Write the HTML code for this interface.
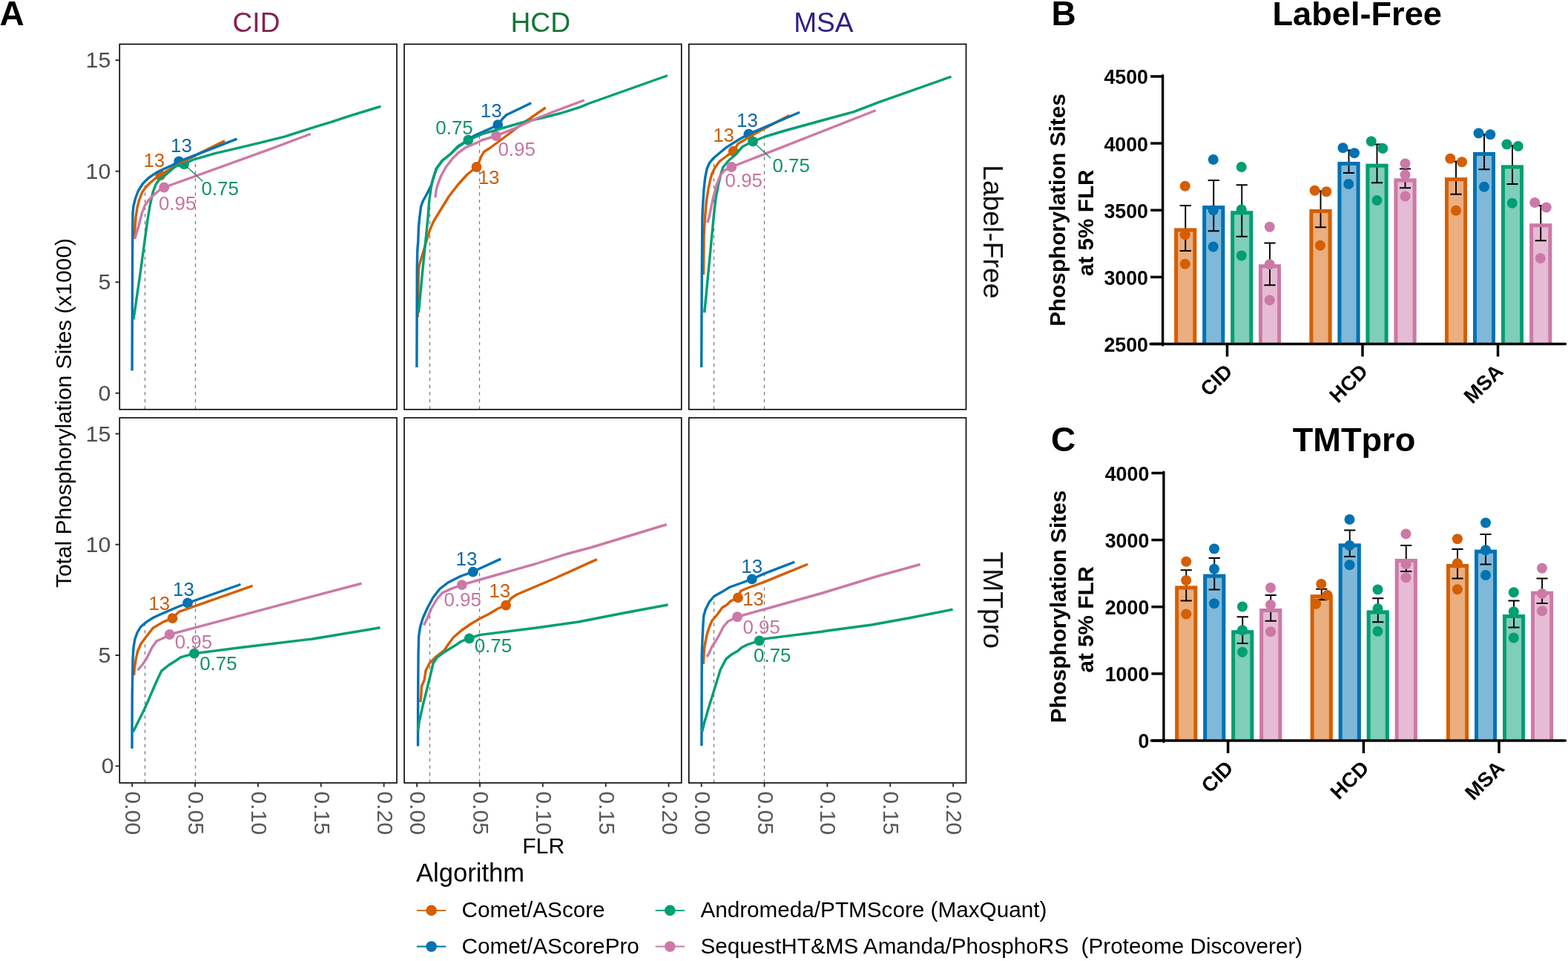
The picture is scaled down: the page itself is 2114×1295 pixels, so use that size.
<!DOCTYPE html>
<html lang="en">
<head>
<meta charset="utf-8">
<title>Phosphorylation site localization benchmark</title>
<style>
html,body{margin:0;padding:0;background:#fff;}
body{width:2114px;height:1295px;overflow:hidden;}
svg{display:block;font-family:"Liberation Sans", Arial, Helvetica, sans-serif;}
</style>
</head>
<body>
<svg width="2114" height="1295" viewBox="0 0 2114 1295">
<rect x="0" y="0" width="2114" height="1295" fill="#ffffff"/>
<g id="panelA">
<g>
<line x1="195.50" y1="551.75" x2="195.50" y2="246.00" stroke="#777777" stroke-width="1.25" stroke-dasharray="4.4 5.2"/>
<line x1="263.50" y1="551.75" x2="263.50" y2="211.00" stroke="#777777" stroke-width="1.25" stroke-dasharray="4.4 5.2"/>
<circle cx="216.25" cy="236.25" r="6.9" fill="#D55E00"/>
<circle cx="241.25" cy="217.50" r="6.9" fill="#0072B2"/>
<circle cx="248.10" cy="221.25" r="6.9" fill="#009E73"/>
<circle cx="221.25" cy="252.50" r="6.9" fill="#CC79A7"/>
<path d="M181.40,322.00 L181.90,307.50 L183.10,292.50 L185.00,280.00 L187.50,270.00 L191.25,260.00 L196.25,252.50 L202.50,246.25 L210.00,240.00 L216.25,236.25 L225.00,230.50 L241.00,221.00 L270.00,206.00 L303.00,189.70" fill="none" stroke="#D55E00" stroke-width="3.4" stroke-linejoin="round" stroke-linecap="butt"/>
<path d="M178.10,499.40 L178.30,430.00 L178.50,362.00 L178.75,312.50 L179.00,287.50 L180.00,277.50 L182.50,267.50 L186.25,257.50 L192.50,247.50 L200.00,240.00 L210.00,233.10 L220.00,228.10 L232.50,222.50 L241.25,217.50 L319.50,187.20" fill="none" stroke="#0072B2" stroke-width="3.4" stroke-linejoin="round" stroke-linecap="butt"/>
<path d="M180.00,430.60 L190.00,362.00 L195.00,325.00 L198.75,297.50 L202.50,275.00 L206.25,258.75 L210.00,248.75 L215.00,241.25 L222.50,236.25 L231.25,228.75 L237.50,223.75 L248.10,221.25 L260.00,215.30 L290.00,206.60 L321.25,199.40 L352.50,191.90 L383.75,184.10 L421.90,171.90 L447.50,164.20 L470.00,156.70 L513.40,143.30" fill="none" stroke="#009E73" stroke-width="3.4" stroke-linejoin="round" stroke-linecap="butt"/>
<path d="M181.90,321.25 L187.50,302.50 L191.25,287.50 L195.00,277.50 L200.00,270.00 L207.50,262.50 L215.00,256.25 L221.25,252.50 L363.75,201.20 L418.75,180.50" fill="none" stroke="#CC79A7" stroke-width="3.4" stroke-linejoin="round" stroke-linecap="butt"/>
<line x1="248.10" y1="221.25" x2="273.50" y2="244.60" stroke="#1c8466" stroke-width="1.3"/>
<text x="207.80" y="224.70" font-size="25.9" fill="#cb5f0c" text-anchor="middle">13</text>
<text x="244.40" y="205.30" font-size="25.9" fill="#0d6aa6" text-anchor="middle">13</text>
<text x="296.60" y="263.40" font-size="25.9" fill="#0f9169" text-anchor="middle">0.75</text>
<text x="239.10" y="283.40" font-size="25.9" fill="#c475a1" text-anchor="middle">0.95</text>
<rect x="161.25" y="59.50" width="373.75" height="492.25" fill="none" stroke="#000" stroke-width="1.6"/>
</g>
<g>
<line x1="579.50" y1="551.75" x2="579.50" y2="256.00" stroke="#777777" stroke-width="1.25" stroke-dasharray="4.4 5.2"/>
<line x1="646.50" y1="551.75" x2="646.50" y2="183.00" stroke="#777777" stroke-width="1.25" stroke-dasharray="4.4 5.2"/>
<circle cx="642.50" cy="225.00" r="6.9" fill="#D55E00"/>
<circle cx="671.25" cy="168.10" r="6.9" fill="#0072B2"/>
<circle cx="631.25" cy="188.75" r="6.9" fill="#009E73"/>
<circle cx="668.75" cy="183.10" r="6.9" fill="#CC79A7"/>
<path d="M563.10,427.50 L564.40,362.00 L566.25,353.75 L571.25,337.50 L576.25,320.00 L580.00,308.75 L585.00,297.50 L595.00,281.25 L605.00,265.00 L617.50,248.75 L630.00,235.00 L642.50,225.00 L646.25,217.50 L648.75,211.00 L652.50,204.50 L661.25,199.00 L680.00,185.00 L705.00,166.25 L735.60,145.00" fill="none" stroke="#D55E00" stroke-width="3.4" stroke-linejoin="round" stroke-linecap="butt"/>
<path d="M561.90,495.00 L562.25,362.00 L562.75,337.50 L563.75,325.00 L564.40,306.25 L565.60,293.75 L567.50,278.75 L570.00,271.25 L576.25,260.00 L581.25,250.00 L584.00,241.00 L588.30,227.50 L596.25,216.50 L607.50,207.50 L617.50,198.00 L631.25,188.50 L640.00,182.50 L662.50,172.50 L671.25,168.10 L675.00,163.50 L677.50,160.00 L682.50,155.00 L716.25,138.75" fill="none" stroke="#0072B2" stroke-width="3.4" stroke-linejoin="round" stroke-linecap="butt"/>
<path d="M564.40,421.25 L570.00,362.00 L572.50,337.50 L574.40,318.75 L576.90,293.75 L578.75,270.00 L581.25,252.50 L583.75,241.25 L588.10,227.50 L596.25,216.25 L607.50,207.50 L617.50,197.00 L631.25,188.75 L650.00,180.60 L678.10,172.50 L706.25,164.40 L731.25,158.75 L756.25,152.50 L781.90,144.40 L793.75,139.50 L900.00,101.75" fill="none" stroke="#009E73" stroke-width="3.4" stroke-linejoin="round" stroke-linecap="butt"/>
<path d="M586.90,266.25 L588.10,256.25 L590.00,248.75 L595.00,236.25 L601.25,225.00 L610.00,213.75 L617.50,206.25 L627.50,199.00 L642.50,192.50 L650.00,188.75 L668.75,183.10 L693.75,173.10 L718.75,161.50 L743.75,151.50 L787.80,135.00" fill="none" stroke="#CC79A7" stroke-width="3.4" stroke-linejoin="round" stroke-linecap="butt"/>
<text x="612.50" y="180.90" font-size="25.9" fill="#0f9169" text-anchor="middle">0.75</text>
<text x="662.20" y="158.40" font-size="25.9" fill="#0d6aa6" text-anchor="middle">13</text>
<text x="696.60" y="210.30" font-size="25.9" fill="#c475a1" text-anchor="middle">0.95</text>
<text x="659.10" y="247.80" font-size="25.9" fill="#cb5f0c" text-anchor="middle">13</text>
<rect x="545.00" y="59.50" width="373.75" height="492.25" fill="none" stroke="#000" stroke-width="1.6"/>
</g>
<g>
<line x1="962.50" y1="551.75" x2="962.50" y2="214.00" stroke="#777777" stroke-width="1.25" stroke-dasharray="4.4 5.2"/>
<line x1="1030.50" y1="551.75" x2="1030.50" y2="173.00" stroke="#777777" stroke-width="1.25" stroke-dasharray="4.4 5.2"/>
<circle cx="988.75" cy="203.75" r="6.9" fill="#D55E00"/>
<circle cx="1009.40" cy="180.60" r="6.9" fill="#0072B2"/>
<circle cx="1015.00" cy="190.60" r="6.9" fill="#009E73"/>
<circle cx="986.25" cy="225.00" r="6.9" fill="#CC79A7"/>
<path d="M948.50,370.00 L949.00,317.50 L950.60,292.00 L952.50,270.00 L955.00,255.00 L957.50,242.50 L960.00,233.75 L963.75,226.25 L970.00,217.50 L980.00,210.00 L988.75,203.75 L995.00,193.75 L1015.00,181.90 L1030.00,173.60 L1047.00,164.60 L1064.40,155.60" fill="none" stroke="#D55E00" stroke-width="3.4" stroke-linejoin="round" stroke-linecap="butt"/>
<path d="M945.70,495.00 L945.90,442.00 L946.40,350.00 L946.90,292.00 L947.75,273.75 L949.00,255.00 L950.60,240.00 L953.10,227.50 L956.25,220.00 L961.25,213.75 L970.00,206.25 L980.00,198.10 L995.00,188.75 L1009.40,180.60 L1078.10,151.25" fill="none" stroke="#0072B2" stroke-width="3.4" stroke-linejoin="round" stroke-linecap="butt"/>
<path d="M949.75,421.25 L962.80,286.00 L965.00,267.50 L968.75,247.50 L972.50,232.50 L975.00,225.00 L982.50,216.25 L991.25,208.75 L1001.25,197.50 L1015.00,190.60 L1032.50,183.75 L1057.50,176.25 L1107.50,162.50 L1151.25,150.60 L1183.75,138.10 L1282.50,103.25" fill="none" stroke="#009E73" stroke-width="3.4" stroke-linejoin="round" stroke-linecap="butt"/>
<path d="M953.75,300.00 L956.25,292.00 L961.25,267.50 L966.25,248.75 L971.25,236.25 L976.25,230.00 L986.25,225.00 L1180.60,148.75" fill="none" stroke="#CC79A7" stroke-width="3.4" stroke-linejoin="round" stroke-linecap="butt"/>
<line x1="1015.00" y1="190.60" x2="1039.00" y2="213.30" stroke="#1c8466" stroke-width="1.3"/>
<text x="1007.50" y="170.90" font-size="25.9" fill="#0d6aa6" text-anchor="middle">13</text>
<text x="975.60" y="190.90" font-size="25.9" fill="#cb5f0c" text-anchor="middle">13</text>
<text x="1066.60" y="231.55" font-size="25.9" fill="#0f9169" text-anchor="middle">0.75</text>
<text x="1002.80" y="251.55" font-size="25.9" fill="#c475a1" text-anchor="middle">0.95</text>
<rect x="928.75" y="59.50" width="373.75" height="492.25" fill="none" stroke="#000" stroke-width="1.6"/>
</g>
<line x1="155.6" y1="81.20" x2="161.2" y2="81.20" stroke="#2b2b2b" stroke-width="1.9"/>
<text x="149.3" y="91.20" font-size="30.3" fill="#4d4d4d" text-anchor="end">15</text>
<line x1="155.6" y1="230.73" x2="161.2" y2="230.73" stroke="#2b2b2b" stroke-width="1.9"/>
<text x="149.3" y="240.73" font-size="30.3" fill="#4d4d4d" text-anchor="end">10</text>
<line x1="155.6" y1="380.27" x2="161.2" y2="380.27" stroke="#2b2b2b" stroke-width="1.9"/>
<text x="149.3" y="390.27" font-size="30.3" fill="#4d4d4d" text-anchor="end">5</text>
<line x1="155.6" y1="529.80" x2="161.2" y2="529.80" stroke="#2b2b2b" stroke-width="1.9"/>
<text x="149.3" y="539.80" font-size="30.3" fill="#4d4d4d" text-anchor="end">0</text>
<g>
<line x1="195.50" y1="1055.00" x2="195.50" y2="842.00" stroke="#777777" stroke-width="1.25" stroke-dasharray="4.4 5.2"/>
<line x1="263.50" y1="1055.00" x2="263.50" y2="811.00" stroke="#777777" stroke-width="1.25" stroke-dasharray="4.4 5.2"/>
<circle cx="232.50" cy="833.10" r="6.9" fill="#D55E00"/>
<circle cx="253.10" cy="812.50" r="6.9" fill="#0072B2"/>
<circle cx="261.90" cy="880.60" r="6.9" fill="#009E73"/>
<circle cx="228.75" cy="855.00" r="6.9" fill="#CC79A7"/>
<path d="M180.70,910.00 L181.25,901.25 L183.10,888.75 L185.60,877.50 L190.00,867.50 L197.50,857.50 L206.25,846.25 L220.00,838.10 L232.50,833.10 L237.50,828.10 L241.25,824.40 L262.50,816.90 L340.60,789.40" fill="none" stroke="#D55E00" stroke-width="3.4" stroke-linejoin="round" stroke-linecap="butt"/>
<path d="M178.00,1008.75 L178.25,935.00 L178.75,907.50 L179.00,888.75 L180.00,872.50 L181.90,861.25 L185.00,852.50 L189.40,845.00 L197.50,838.10 L206.25,832.50 L220.00,826.25 L237.50,818.75 L253.10,812.50 L324.40,787.50" fill="none" stroke="#0072B2" stroke-width="3.4" stroke-linejoin="round" stroke-linecap="butt"/>
<path d="M179.50,986.25 L195.00,955.00 L205.00,932.00 L212.50,915.00 L217.50,904.40 L227.50,896.25 L237.50,890.00 L243.75,885.60 L261.90,880.60 L325.00,872.50 L413.75,861.90 L420.00,861.25 L512.50,845.75" fill="none" stroke="#009E73" stroke-width="3.4" stroke-linejoin="round" stroke-linecap="butt"/>
<path d="M185.60,903.10 L192.50,895.00 L197.50,887.50 L205.00,872.50 L211.25,863.75 L220.00,860.00 L228.75,855.00 L413.75,805.60 L487.50,786.25" fill="none" stroke="#CC79A7" stroke-width="3.4" stroke-linejoin="round" stroke-linecap="butt"/>
<text x="247.50" y="803.40" font-size="25.9" fill="#0d6aa6" text-anchor="middle">13</text>
<text x="214.70" y="821.55" font-size="25.9" fill="#cb5f0c" text-anchor="middle">13</text>
<text x="260.90" y="874.05" font-size="25.9" fill="#c475a1" text-anchor="middle">0.95</text>
<text x="294.40" y="903.05" font-size="25.9" fill="#0f9169" text-anchor="middle">0.75</text>
<rect x="161.25" y="563.00" width="373.75" height="492.00" fill="none" stroke="#000" stroke-width="1.6"/>
</g>
<g>
<line x1="579.50" y1="1055.00" x2="579.50" y2="813.00" stroke="#777777" stroke-width="1.25" stroke-dasharray="4.4 5.2"/>
<line x1="646.50" y1="1055.00" x2="646.50" y2="767.00" stroke="#777777" stroke-width="1.25" stroke-dasharray="4.4 5.2"/>
<circle cx="682.10" cy="815.60" r="6.9" fill="#D55E00"/>
<circle cx="637.75" cy="770.60" r="6.9" fill="#0072B2"/>
<circle cx="632.75" cy="860.30" r="6.9" fill="#009E73"/>
<circle cx="622.75" cy="788.10" r="6.9" fill="#CC79A7"/>
<path d="M566.75,946.25 L567.75,937.50 L568.40,925.00 L572.10,916.25 L574.00,903.75 L579.00,893.75 L587.75,885.00 L599.00,876.25 L604.00,868.75 L611.50,858.75 L621.50,850.00 L634.00,841.25 L646.50,833.75 L659.00,827.50 L671.50,820.00 L682.10,815.60 L689.00,806.25 L696.50,801.25 L746.50,780.00 L797.75,756.90 L805.00,753.75" fill="none" stroke="#D55E00" stroke-width="3.4" stroke-linejoin="round" stroke-linecap="butt"/>
<path d="M563.50,1005.60 L563.60,947.50 L564.00,882.00 L564.60,857.50 L566.50,845.00 L570.25,832.50 L576.50,818.75 L584.00,805.00 L592.75,793.75 L604.00,785.00 L621.50,776.25 L637.75,770.60 L646.50,766.25 L675.25,753.10" fill="none" stroke="#0072B2" stroke-width="3.4" stroke-linejoin="round" stroke-linecap="butt"/>
<path d="M563.40,985.00 L565.25,972.50 L570.25,950.00 L575.25,930.00 L580.25,910.00 L584.00,893.75 L589.00,886.25 L599.00,878.75 L615.25,868.75 L621.50,864.40 L632.75,860.30 L646.50,855.60 L721.50,846.25 L780.00,838.00 L840.00,826.25 L900.50,815.00" fill="none" stroke="#009E73" stroke-width="3.4" stroke-linejoin="round" stroke-linecap="butt"/>
<path d="M571.50,842.50 L576.50,832.50 L581.50,820.00 L589.00,807.50 L596.50,798.75 L609.00,793.10 L622.75,788.10 L646.50,781.25 L721.50,760.00 L765.00,746.25 L797.75,737.50 L898.75,706.75" fill="none" stroke="#CC79A7" stroke-width="3.4" stroke-linejoin="round" stroke-linecap="butt"/>
<text x="629.00" y="761.55" font-size="25.9" fill="#0d6aa6" text-anchor="middle">13</text>
<text x="623.70" y="817.20" font-size="25.9" fill="#c475a1" text-anchor="middle">0.95</text>
<text x="673.70" y="804.70" font-size="25.9" fill="#cb5f0c" text-anchor="middle">13</text>
<text x="664.90" y="878.70" font-size="25.9" fill="#0f9169" text-anchor="middle">0.75</text>
<rect x="545.00" y="563.00" width="373.75" height="492.00" fill="none" stroke="#000" stroke-width="1.6"/>
</g>
<g>
<line x1="962.50" y1="1055.00" x2="962.50" y2="805.00" stroke="#777777" stroke-width="1.25" stroke-dasharray="4.4 5.2"/>
<line x1="1030.50" y1="1055.00" x2="1030.50" y2="774.00" stroke="#777777" stroke-width="1.25" stroke-dasharray="4.4 5.2"/>
<circle cx="995.00" cy="805.40" r="6.9" fill="#D55E00"/>
<circle cx="1013.75" cy="780.40" r="6.9" fill="#0072B2"/>
<circle cx="1023.75" cy="863.40" r="6.9" fill="#009E73"/>
<circle cx="994.00" cy="831.25" r="6.9" fill="#CC79A7"/>
<path d="M948.30,895.00 L949.40,875.00 L950.60,867.50 L953.10,855.00 L956.25,845.00 L960.00,836.25 L967.50,827.50 L973.75,818.75 L980.00,815.00 L985.00,810.00 L995.00,805.40 L998.75,796.25 L1007.50,792.50 L1030.00,784.40 L1089.00,760.25" fill="none" stroke="#D55E00" stroke-width="3.4" stroke-linejoin="round" stroke-linecap="butt"/>
<path d="M945.90,1005.00 L946.25,882.00 L946.90,863.75 L947.75,845.00 L948.75,830.00 L951.25,821.25 L956.25,811.25 L962.50,803.75 L972.50,798.10 L983.75,791.25 L1001.25,785.00 L1013.75,780.40 L1030.00,773.10 L1071.25,757.25" fill="none" stroke="#0072B2" stroke-width="3.4" stroke-linejoin="round" stroke-linecap="butt"/>
<path d="M946.50,986.25 L950.00,972.50 L955.00,955.00 L961.25,935.00 L966.25,918.75 L971.25,902.50 L978.75,888.10 L986.25,881.90 L995.00,876.90 L1000.00,872.50 L1007.50,868.75 L1023.75,863.40 L1032.50,860.60 L1107.50,851.25 L1115.00,850.00 L1175.00,842.00 L1227.50,832.50 L1284.50,821.25" fill="none" stroke="#009E73" stroke-width="3.4" stroke-linejoin="round" stroke-linecap="butt"/>
<path d="M953.10,885.00 L955.00,882.00 L960.00,871.25 L965.00,863.75 L970.00,855.00 L975.00,845.00 L981.25,837.50 L987.50,834.40 L994.00,831.25 L1032.50,820.50 L1107.50,799.50 L1183.75,776.25 L1240.75,760.50" fill="none" stroke="#CC79A7" stroke-width="3.4" stroke-linejoin="round" stroke-linecap="butt"/>
<text x="1013.75" y="771.55" font-size="25.9" fill="#0d6aa6" text-anchor="middle">13</text>
<text x="1015.60" y="815.90" font-size="25.9" fill="#cb5f0c" text-anchor="middle">13</text>
<text x="1026.60" y="854.05" font-size="25.9" fill="#c475a1" text-anchor="middle">0.95</text>
<text x="1041.25" y="892.20" font-size="25.9" fill="#0f9169" text-anchor="middle">0.75</text>
<rect x="928.75" y="563.00" width="373.75" height="492.00" fill="none" stroke="#000" stroke-width="1.6"/>
</g>
<line x1="155.6" y1="584.50" x2="161.2" y2="584.50" stroke="#2b2b2b" stroke-width="1.9"/>
<text x="149.3" y="594.50" font-size="30.3" fill="#4d4d4d" text-anchor="end">15</text>
<line x1="155.6" y1="733.77" x2="161.2" y2="733.77" stroke="#2b2b2b" stroke-width="1.9"/>
<text x="149.3" y="743.77" font-size="30.3" fill="#4d4d4d" text-anchor="end">10</text>
<line x1="155.6" y1="883.03" x2="161.2" y2="883.03" stroke="#2b2b2b" stroke-width="1.9"/>
<text x="149.3" y="893.03" font-size="30.3" fill="#4d4d4d" text-anchor="end">5</text>
<line x1="155.6" y1="1032.30" x2="161.2" y2="1032.30" stroke="#2b2b2b" stroke-width="1.9"/>
<text x="153.7" y="1042.30" font-size="30.3" fill="#4d4d4d" text-anchor="end">0</text>
<line x1="178.20" y1="1055.00" x2="178.20" y2="1060.40" stroke="#2b2b2b" stroke-width="1.9"/>
<text transform="translate(169.20,1066.20) rotate(90)" font-size="30.3" fill="#585858">0.00</text>
<line x1="263.05" y1="1055.00" x2="263.05" y2="1060.40" stroke="#2b2b2b" stroke-width="1.9"/>
<text transform="translate(254.05,1066.20) rotate(90)" font-size="30.3" fill="#585858">0.05</text>
<line x1="347.90" y1="1055.00" x2="347.90" y2="1060.40" stroke="#2b2b2b" stroke-width="1.9"/>
<text transform="translate(338.90,1066.20) rotate(90)" font-size="30.3" fill="#585858">0.10</text>
<line x1="432.75" y1="1055.00" x2="432.75" y2="1060.40" stroke="#2b2b2b" stroke-width="1.9"/>
<text transform="translate(423.75,1066.20) rotate(90)" font-size="30.3" fill="#585858">0.15</text>
<line x1="517.60" y1="1055.00" x2="517.60" y2="1060.40" stroke="#2b2b2b" stroke-width="1.9"/>
<text transform="translate(508.60,1066.20) rotate(90)" font-size="30.3" fill="#585858">0.20</text>
<line x1="562.10" y1="1055.00" x2="562.10" y2="1060.40" stroke="#2b2b2b" stroke-width="1.9"/>
<text transform="translate(553.10,1066.20) rotate(90)" font-size="30.3" fill="#585858">0.00</text>
<line x1="646.95" y1="1055.00" x2="646.95" y2="1060.40" stroke="#2b2b2b" stroke-width="1.9"/>
<text transform="translate(637.95,1066.20) rotate(90)" font-size="30.3" fill="#585858">0.05</text>
<line x1="731.80" y1="1055.00" x2="731.80" y2="1060.40" stroke="#2b2b2b" stroke-width="1.9"/>
<text transform="translate(722.80,1066.20) rotate(90)" font-size="30.3" fill="#585858">0.10</text>
<line x1="816.65" y1="1055.00" x2="816.65" y2="1060.40" stroke="#2b2b2b" stroke-width="1.9"/>
<text transform="translate(807.65,1066.20) rotate(90)" font-size="30.3" fill="#585858">0.15</text>
<line x1="901.50" y1="1055.00" x2="901.50" y2="1060.40" stroke="#2b2b2b" stroke-width="1.9"/>
<text transform="translate(892.50,1066.20) rotate(90)" font-size="30.3" fill="#585858">0.20</text>
<line x1="945.70" y1="1055.00" x2="945.70" y2="1060.40" stroke="#2b2b2b" stroke-width="1.9"/>
<text transform="translate(936.70,1066.20) rotate(90)" font-size="30.3" fill="#585858">0.00</text>
<line x1="1030.55" y1="1055.00" x2="1030.55" y2="1060.40" stroke="#2b2b2b" stroke-width="1.9"/>
<text transform="translate(1021.55,1066.20) rotate(90)" font-size="30.3" fill="#585858">0.05</text>
<line x1="1115.40" y1="1055.00" x2="1115.40" y2="1060.40" stroke="#2b2b2b" stroke-width="1.9"/>
<text transform="translate(1106.40,1066.20) rotate(90)" font-size="30.3" fill="#585858">0.10</text>
<line x1="1200.25" y1="1055.00" x2="1200.25" y2="1060.40" stroke="#2b2b2b" stroke-width="1.9"/>
<text transform="translate(1191.25,1066.20) rotate(90)" font-size="30.3" fill="#585858">0.15</text>
<line x1="1285.10" y1="1055.00" x2="1285.10" y2="1060.40" stroke="#2b2b2b" stroke-width="1.9"/>
<text transform="translate(1276.10,1066.20) rotate(90)" font-size="30.3" fill="#585858">0.20</text>
<text x="345.52" y="42.6" font-size="37.1" fill="#842254" text-anchor="middle">CID</text>
<text x="728.77" y="42.6" font-size="37.1" fill="#137636" text-anchor="middle">HCD</text>
<text x="1110.42" y="42.6" font-size="37.1" fill="#2f2083" text-anchor="middle">MSA</text>
<text transform="translate(1326.2,312.32) rotate(90)" font-size="37.3" fill="#111" text-anchor="middle">Label-Free</text>
<text transform="translate(1326.2,808.70) rotate(90)" font-size="37.3" fill="#111" text-anchor="middle">TMTpro</text>
<text transform="translate(96.1,556.6) rotate(-90)" font-size="29.95" fill="#000" text-anchor="middle">Total Phosphorylation Sites (x1000)</text>
<text x="732.7" y="1150.4" font-size="30.2" fill="#000" text-anchor="middle">FLR</text>
<text x="561.0" y="1187.6" font-size="34.6" fill="#000">Algorithm</text>
<line x1="561.90" y1="1226.90" x2="601.30" y2="1226.90" stroke="#D55E00" stroke-width="1.9"/>
<circle cx="581.60" cy="1226.90" r="7.3" fill="#D55E00"/>
<text x="622.60" y="1236.10" font-size="29.7" fill="#000" style="white-space:pre">Comet/AScore</text>
<line x1="561.90" y1="1275.50" x2="601.30" y2="1275.50" stroke="#0072B2" stroke-width="1.9"/>
<circle cx="581.60" cy="1275.50" r="7.3" fill="#0072B2"/>
<text x="622.60" y="1284.70" font-size="29.7" fill="#000" style="white-space:pre">Comet/AScorePro</text>
<line x1="883.60" y1="1226.90" x2="923.00" y2="1226.90" stroke="#009E73" stroke-width="1.9"/>
<circle cx="903.30" cy="1226.90" r="7.3" fill="#009E73"/>
<text x="944.40" y="1236.10" font-size="29.7" fill="#000" style="white-space:pre">Andromeda/PTMScore (MaxQuant)</text>
<line x1="883.60" y1="1275.50" x2="923.00" y2="1275.50" stroke="#CC79A7" stroke-width="1.9"/>
<circle cx="903.30" cy="1275.50" r="7.3" fill="#CC79A7"/>
<text x="944.40" y="1284.70" font-size="29.7" fill="#000" style="white-space:pre">SequestHT&amp;MS Amanda/PhosphoRS  (Proteome Discoverer)</text>
<text x="-0.6" y="34.2" font-size="46" font-weight="bold" fill="#000">A</text>
</g>
<g id="chartB">
<rect x="1583.25" y="307.50" width="30" height="156.00" fill="#D55E00" fill-opacity="0.5"/>
<rect x="1621.25" y="277.00" width="30" height="186.50" fill="#0072B2" fill-opacity="0.5"/>
<rect x="1659.25" y="284.25" width="30" height="179.25" fill="#009E73" fill-opacity="0.5"/>
<rect x="1697.00" y="356.25" width="30" height="107.25" fill="#CC79A7" fill-opacity="0.5"/>
<rect x="1765.50" y="282.00" width="30" height="181.50" fill="#D55E00" fill-opacity="0.5"/>
<rect x="1803.50" y="218.00" width="30" height="245.50" fill="#0072B2" fill-opacity="0.5"/>
<rect x="1841.50" y="220.75" width="30" height="242.75" fill="#009E73" fill-opacity="0.5"/>
<rect x="1879.50" y="240.50" width="30" height="223.00" fill="#CC79A7" fill-opacity="0.5"/>
<rect x="1948.00" y="239.25" width="30" height="224.25" fill="#D55E00" fill-opacity="0.5"/>
<rect x="1986.00" y="205.00" width="30" height="258.50" fill="#0072B2" fill-opacity="0.5"/>
<rect x="2024.00" y="222.50" width="30" height="241.00" fill="#009E73" fill-opacity="0.5"/>
<rect x="2062.25" y="301.25" width="30" height="162.25" fill="#CC79A7" fill-opacity="0.5"/>
<path d="M1598.25,277.00 V338.00 M1590.65,277.00 H1605.85 M1590.65,338.00 H1605.85" fill="none" stroke="#000" stroke-width="1.9"/>
<path d="M1636.25,243.00 V311.25 M1628.65,243.00 H1643.85 M1628.65,311.25 H1643.85" fill="none" stroke="#000" stroke-width="1.9"/>
<path d="M1674.25,249.25 V318.75 M1666.65,249.25 H1681.85 M1666.65,318.75 H1681.85" fill="none" stroke="#000" stroke-width="1.9"/>
<path d="M1712.00,327.50 V384.30 M1704.40,327.50 H1719.60 M1704.40,384.30 H1719.60" fill="none" stroke="#000" stroke-width="1.9"/>
<path d="M1780.50,257.50 V306.25 M1772.90,257.50 H1788.10 M1772.90,306.25 H1788.10" fill="none" stroke="#000" stroke-width="1.9"/>
<path d="M1818.50,202.50 V233.00 M1810.90,202.50 H1826.10 M1810.90,233.00 H1826.10" fill="none" stroke="#000" stroke-width="1.9"/>
<path d="M1856.50,194.50 V246.25 M1848.90,194.50 H1864.10 M1848.90,246.25 H1864.10" fill="none" stroke="#000" stroke-width="1.9"/>
<path d="M1894.50,227.50 V253.25 M1886.90,227.50 H1902.10 M1886.90,253.25 H1902.10" fill="none" stroke="#000" stroke-width="1.9"/>
<path d="M1963.00,217.50 V261.75 M1955.40,217.50 H1970.60 M1955.40,261.75 H1970.60" fill="none" stroke="#000" stroke-width="1.9"/>
<path d="M2001.00,181.25 V228.25 M1993.40,181.25 H2008.60 M1993.40,228.25 H2008.60" fill="none" stroke="#000" stroke-width="1.9"/>
<path d="M2039.00,196.25 V248.00 M2031.40,196.25 H2046.60 M2031.40,248.00 H2046.60" fill="none" stroke="#000" stroke-width="1.9"/>
<path d="M2077.25,277.00 V324.25 M2069.65,277.00 H2084.85 M2069.65,324.25 H2084.85" fill="none" stroke="#000" stroke-width="1.9"/>
<circle cx="1597.75" cy="250.75" r="7.0" fill="#D55E00"/>
<circle cx="1597.75" cy="316.25" r="7.0" fill="#D55E00"/>
<circle cx="1597.75" cy="355.75" r="7.0" fill="#D55E00"/>
<circle cx="1635.75" cy="215.00" r="7.0" fill="#0072B2"/>
<circle cx="1635.75" cy="283.25" r="7.0" fill="#0072B2"/>
<circle cx="1635.75" cy="332.50" r="7.0" fill="#0072B2"/>
<circle cx="1673.75" cy="225.00" r="7.0" fill="#009E73"/>
<circle cx="1673.75" cy="282.50" r="7.0" fill="#009E73"/>
<circle cx="1673.75" cy="344.50" r="7.0" fill="#009E73"/>
<circle cx="1711.75" cy="305.75" r="7.0" fill="#CC79A7"/>
<circle cx="1711.75" cy="356.25" r="7.0" fill="#CC79A7"/>
<circle cx="1711.75" cy="404.50" r="7.0" fill="#CC79A7"/>
<circle cx="1772.50" cy="256.75" r="7.0" fill="#D55E00"/>
<circle cx="1788.25" cy="258.25" r="7.0" fill="#D55E00"/>
<circle cx="1780.00" cy="330.75" r="7.0" fill="#D55E00"/>
<circle cx="1810.50" cy="199.25" r="7.0" fill="#0072B2"/>
<circle cx="1826.00" cy="206.25" r="7.0" fill="#0072B2"/>
<circle cx="1818.25" cy="248.00" r="7.0" fill="#0072B2"/>
<circle cx="1848.75" cy="190.50" r="7.0" fill="#009E73"/>
<circle cx="1864.25" cy="200.00" r="7.0" fill="#009E73"/>
<circle cx="1856.50" cy="270.00" r="7.0" fill="#009E73"/>
<circle cx="1894.50" cy="220.50" r="7.0" fill="#CC79A7"/>
<circle cx="1894.50" cy="235.50" r="7.0" fill="#CC79A7"/>
<circle cx="1894.50" cy="264.50" r="7.0" fill="#CC79A7"/>
<circle cx="1955.25" cy="213.75" r="7.0" fill="#D55E00"/>
<circle cx="1971.00" cy="218.25" r="7.0" fill="#D55E00"/>
<circle cx="1963.00" cy="283.75" r="7.0" fill="#D55E00"/>
<circle cx="1993.50" cy="179.50" r="7.0" fill="#0072B2"/>
<circle cx="2009.25" cy="181.25" r="7.0" fill="#0072B2"/>
<circle cx="2001.00" cy="251.75" r="7.0" fill="#0072B2"/>
<circle cx="2031.50" cy="194.50" r="7.0" fill="#009E73"/>
<circle cx="2046.75" cy="197.00" r="7.0" fill="#009E73"/>
<circle cx="2038.75" cy="273.75" r="7.0" fill="#009E73"/>
<circle cx="2069.25" cy="273.00" r="7.0" fill="#CC79A7"/>
<circle cx="2084.75" cy="279.50" r="7.0" fill="#CC79A7"/>
<circle cx="2076.75" cy="348.00" r="7.0" fill="#CC79A7"/>
<path d="M1585.70,463.50 V309.95 H1610.80 V463.50" fill="none" stroke="#D55E00" stroke-width="4.9" stroke-linejoin="miter"/>
<path d="M1623.70,463.50 V279.45 H1648.80 V463.50" fill="none" stroke="#0072B2" stroke-width="4.9" stroke-linejoin="miter"/>
<path d="M1661.70,463.50 V286.70 H1686.80 V463.50" fill="none" stroke="#009E73" stroke-width="4.9" stroke-linejoin="miter"/>
<path d="M1699.45,463.50 V358.70 H1724.55 V463.50" fill="none" stroke="#CC79A7" stroke-width="4.9" stroke-linejoin="miter"/>
<path d="M1767.95,463.50 V284.45 H1793.05 V463.50" fill="none" stroke="#D55E00" stroke-width="4.9" stroke-linejoin="miter"/>
<path d="M1805.95,463.50 V220.45 H1831.05 V463.50" fill="none" stroke="#0072B2" stroke-width="4.9" stroke-linejoin="miter"/>
<path d="M1843.95,463.50 V223.20 H1869.05 V463.50" fill="none" stroke="#009E73" stroke-width="4.9" stroke-linejoin="miter"/>
<path d="M1881.95,463.50 V242.95 H1907.05 V463.50" fill="none" stroke="#CC79A7" stroke-width="4.9" stroke-linejoin="miter"/>
<path d="M1950.45,463.50 V241.70 H1975.55 V463.50" fill="none" stroke="#D55E00" stroke-width="4.9" stroke-linejoin="miter"/>
<path d="M1988.45,463.50 V207.45 H2013.55 V463.50" fill="none" stroke="#0072B2" stroke-width="4.9" stroke-linejoin="miter"/>
<path d="M2026.45,463.50 V224.95 H2051.55 V463.50" fill="none" stroke="#009E73" stroke-width="4.9" stroke-linejoin="miter"/>
<path d="M2064.70,463.50 V303.70 H2089.80 V463.50" fill="none" stroke="#CC79A7" stroke-width="4.9" stroke-linejoin="miter"/>
<path d="M1567.60,101.70 V465.10" stroke="#000" stroke-width="3.4" fill="none" stroke-linecap="round"/>
<path d="M1551.10,463.50 H2110.40" stroke="#000" stroke-width="3.5" fill="none" stroke-linecap="round"/>
<line x1="1551.10" y1="103.00" x2="1567.60" y2="103.00" stroke="#000" stroke-width="3.5"/>
<text x="1548.00" y="113.40" font-size="26.8" font-weight="bold" fill="#000" text-anchor="end">4500</text>
<line x1="1551.10" y1="193.12" x2="1567.60" y2="193.12" stroke="#000" stroke-width="3.5"/>
<text x="1548.00" y="203.53" font-size="26.8" font-weight="bold" fill="#000" text-anchor="end">4000</text>
<line x1="1551.10" y1="283.25" x2="1567.60" y2="283.25" stroke="#000" stroke-width="3.5"/>
<text x="1548.00" y="293.65" font-size="26.8" font-weight="bold" fill="#000" text-anchor="end">3500</text>
<line x1="1551.10" y1="373.38" x2="1567.60" y2="373.38" stroke="#000" stroke-width="3.5"/>
<text x="1548.00" y="383.77" font-size="26.8" font-weight="bold" fill="#000" text-anchor="end">3000</text>
<line x1="1551.10" y1="463.50" x2="1567.60" y2="463.50" stroke="#000" stroke-width="3.5"/>
<text x="1548.00" y="473.90" font-size="26.8" font-weight="bold" fill="#000" text-anchor="end">2500</text>
<line x1="1654.50" y1="463.50" x2="1654.50" y2="480.50" stroke="#000" stroke-width="3.5"/>
<text transform="translate(1663.30,502.10) rotate(-45)" font-size="27.5" font-weight="bold" fill="#000" text-anchor="end">CID</text>
<line x1="1837.00" y1="463.50" x2="1837.00" y2="480.50" stroke="#000" stroke-width="3.5"/>
<text transform="translate(1845.80,502.10) rotate(-45)" font-size="27.5" font-weight="bold" fill="#000" text-anchor="end">HCD</text>
<line x1="2019.50" y1="463.50" x2="2019.50" y2="480.50" stroke="#000" stroke-width="3.5"/>
<text transform="translate(2028.30,502.10) rotate(-45)" font-size="27.5" font-weight="bold" fill="#000" text-anchor="end">MSA</text>
<text transform="translate(1436.30,283.00) rotate(-90)" font-size="29.7" font-weight="bold" fill="#000" text-anchor="middle"><tspan x="0" y="0">Phosphorylation Sites</tspan><tspan x="-17.3" y="37.5">at 5% FLR</tspan></text>
<text x="1829.70" y="33.80" font-size="45.2" font-weight="bold" fill="#000" text-anchor="middle">Label-Free</text>
<text x="1417.50" y="34.20" font-size="46" font-weight="bold" fill="#000">B</text>
</g>
<g id="chartC">
<rect x="1584.25" y="789.50" width="30" height="208.50" fill="#D55E00" fill-opacity="0.5"/>
<rect x="1622.25" y="773.75" width="30" height="224.25" fill="#0072B2" fill-opacity="0.5"/>
<rect x="1660.25" y="849.25" width="30" height="148.75" fill="#009E73" fill-opacity="0.5"/>
<rect x="1698.25" y="820.00" width="30" height="178.00" fill="#CC79A7" fill-opacity="0.5"/>
<rect x="1766.75" y="801.25" width="30" height="196.75" fill="#D55E00" fill-opacity="0.5"/>
<rect x="1804.75" y="732.50" width="30" height="265.50" fill="#0072B2" fill-opacity="0.5"/>
<rect x="1842.75" y="822.50" width="30" height="175.50" fill="#009E73" fill-opacity="0.5"/>
<rect x="1880.75" y="753.00" width="30" height="245.00" fill="#CC79A7" fill-opacity="0.5"/>
<rect x="1950.00" y="760.00" width="30" height="238.00" fill="#D55E00" fill-opacity="0.5"/>
<rect x="1988.00" y="740.75" width="30" height="257.25" fill="#0072B2" fill-opacity="0.5"/>
<rect x="2026.00" y="828.00" width="30" height="170.00" fill="#009E73" fill-opacity="0.5"/>
<rect x="2064.10" y="796.75" width="30" height="201.25" fill="#CC79A7" fill-opacity="0.5"/>
<path d="M1599.25,768.25 V809.50 M1591.65,768.25 H1606.85 M1591.65,809.50 H1606.85" fill="none" stroke="#000" stroke-width="1.9"/>
<path d="M1637.25,752.00 V794.50 M1629.65,752.00 H1644.85 M1629.65,794.50 H1644.85" fill="none" stroke="#000" stroke-width="1.9"/>
<path d="M1675.25,831.25 V867.00 M1667.65,831.25 H1682.85 M1667.65,867.00 H1682.85" fill="none" stroke="#000" stroke-width="1.9"/>
<path d="M1713.25,802.00 V836.75 M1705.65,802.00 H1720.85 M1705.65,836.75 H1720.85" fill="none" stroke="#000" stroke-width="1.9"/>
<path d="M1781.75,793.75 V808.25 M1774.15,793.75 H1789.35 M1774.15,808.25 H1789.35" fill="none" stroke="#000" stroke-width="1.9"/>
<path d="M1819.75,714.50 V750.00 M1812.15,714.50 H1827.35 M1812.15,750.00 H1827.35" fill="none" stroke="#000" stroke-width="1.9"/>
<path d="M1857.75,806.25 V838.25 M1850.15,806.25 H1865.35 M1850.15,838.25 H1865.35" fill="none" stroke="#000" stroke-width="1.9"/>
<path d="M1895.75,735.00 V770.00 M1888.15,735.00 H1903.35 M1888.15,770.00 H1903.35" fill="none" stroke="#000" stroke-width="1.9"/>
<path d="M1965.00,740.00 V779.50 M1957.40,740.00 H1972.60 M1957.40,779.50 H1972.60" fill="none" stroke="#000" stroke-width="1.9"/>
<path d="M2003.00,720.00 V760.50 M1995.40,720.00 H2010.60 M1995.40,760.50 H2010.60" fill="none" stroke="#000" stroke-width="1.9"/>
<path d="M2041.00,809.50 V845.50 M2033.40,809.50 H2048.60 M2033.40,845.50 H2048.60" fill="none" stroke="#000" stroke-width="1.9"/>
<path d="M2079.10,779.50 V813.00 M2071.50,779.50 H2086.70 M2071.50,813.00 H2086.70" fill="none" stroke="#000" stroke-width="1.9"/>
<circle cx="1599.25" cy="756.75" r="7.0" fill="#D55E00"/>
<circle cx="1599.25" cy="782.00" r="7.0" fill="#D55E00"/>
<circle cx="1599.25" cy="827.50" r="7.0" fill="#D55E00"/>
<circle cx="1637.00" cy="739.50" r="7.0" fill="#0072B2"/>
<circle cx="1637.00" cy="766.75" r="7.0" fill="#0072B2"/>
<circle cx="1637.00" cy="813.25" r="7.0" fill="#0072B2"/>
<circle cx="1675.00" cy="817.50" r="7.0" fill="#009E73"/>
<circle cx="1675.00" cy="849.25" r="7.0" fill="#009E73"/>
<circle cx="1675.00" cy="878.75" r="7.0" fill="#009E73"/>
<circle cx="1713.00" cy="792.00" r="7.0" fill="#CC79A7"/>
<circle cx="1713.00" cy="815.00" r="7.0" fill="#CC79A7"/>
<circle cx="1713.00" cy="851.25" r="7.0" fill="#CC79A7"/>
<circle cx="1781.25" cy="787.00" r="7.0" fill="#D55E00"/>
<circle cx="1789.50" cy="802.00" r="7.0" fill="#D55E00"/>
<circle cx="1774.25" cy="813.75" r="7.0" fill="#D55E00"/>
<circle cx="1819.50" cy="700.00" r="7.0" fill="#0072B2"/>
<circle cx="1819.50" cy="735.00" r="7.0" fill="#0072B2"/>
<circle cx="1819.50" cy="761.25" r="7.0" fill="#0072B2"/>
<circle cx="1857.50" cy="794.50" r="7.0" fill="#009E73"/>
<circle cx="1857.50" cy="820.00" r="7.0" fill="#009E73"/>
<circle cx="1857.50" cy="850.75" r="7.0" fill="#009E73"/>
<circle cx="1895.50" cy="719.50" r="7.0" fill="#CC79A7"/>
<circle cx="1895.50" cy="760.00" r="7.0" fill="#CC79A7"/>
<circle cx="1895.50" cy="778.25" r="7.0" fill="#CC79A7"/>
<circle cx="1964.90" cy="726.25" r="7.0" fill="#D55E00"/>
<circle cx="1964.90" cy="759.25" r="7.0" fill="#D55E00"/>
<circle cx="1964.90" cy="794.25" r="7.0" fill="#D55E00"/>
<circle cx="2003.00" cy="704.50" r="7.0" fill="#0072B2"/>
<circle cx="2003.00" cy="741.25" r="7.0" fill="#0072B2"/>
<circle cx="2003.00" cy="775.00" r="7.0" fill="#0072B2"/>
<circle cx="2040.80" cy="798.25" r="7.0" fill="#009E73"/>
<circle cx="2040.80" cy="824.25" r="7.0" fill="#009E73"/>
<circle cx="2040.80" cy="859.50" r="7.0" fill="#009E73"/>
<circle cx="2079.00" cy="765.75" r="7.0" fill="#CC79A7"/>
<circle cx="2079.00" cy="800.00" r="7.0" fill="#CC79A7"/>
<circle cx="2079.00" cy="823.25" r="7.0" fill="#CC79A7"/>
<path d="M1586.70,998.00 V791.95 H1611.80 V998.00" fill="none" stroke="#D55E00" stroke-width="4.9" stroke-linejoin="miter"/>
<path d="M1624.70,998.00 V776.20 H1649.80 V998.00" fill="none" stroke="#0072B2" stroke-width="4.9" stroke-linejoin="miter"/>
<path d="M1662.70,998.00 V851.70 H1687.80 V998.00" fill="none" stroke="#009E73" stroke-width="4.9" stroke-linejoin="miter"/>
<path d="M1700.70,998.00 V822.45 H1725.80 V998.00" fill="none" stroke="#CC79A7" stroke-width="4.9" stroke-linejoin="miter"/>
<path d="M1769.20,998.00 V803.70 H1794.30 V998.00" fill="none" stroke="#D55E00" stroke-width="4.9" stroke-linejoin="miter"/>
<path d="M1807.20,998.00 V734.95 H1832.30 V998.00" fill="none" stroke="#0072B2" stroke-width="4.9" stroke-linejoin="miter"/>
<path d="M1845.20,998.00 V824.95 H1870.30 V998.00" fill="none" stroke="#009E73" stroke-width="4.9" stroke-linejoin="miter"/>
<path d="M1883.20,998.00 V755.45 H1908.30 V998.00" fill="none" stroke="#CC79A7" stroke-width="4.9" stroke-linejoin="miter"/>
<path d="M1952.45,998.00 V762.45 H1977.55 V998.00" fill="none" stroke="#D55E00" stroke-width="4.9" stroke-linejoin="miter"/>
<path d="M1990.45,998.00 V743.20 H2015.55 V998.00" fill="none" stroke="#0072B2" stroke-width="4.9" stroke-linejoin="miter"/>
<path d="M2028.45,998.00 V830.45 H2053.55 V998.00" fill="none" stroke="#009E73" stroke-width="4.9" stroke-linejoin="miter"/>
<path d="M2066.55,998.00 V799.20 H2091.65 V998.00" fill="none" stroke="#CC79A7" stroke-width="4.9" stroke-linejoin="miter"/>
<path d="M1568.90,636.20 V999.60" stroke="#000" stroke-width="3.4" fill="none" stroke-linecap="round"/>
<path d="M1552.40,998.00 H2110.40" stroke="#000" stroke-width="3.5" fill="none" stroke-linecap="round"/>
<line x1="1552.40" y1="637.50" x2="1568.90" y2="637.50" stroke="#000" stroke-width="3.5"/>
<text x="1549.30" y="647.90" font-size="26.8" font-weight="bold" fill="#000" text-anchor="end">4000</text>
<line x1="1552.40" y1="727.62" x2="1568.90" y2="727.62" stroke="#000" stroke-width="3.5"/>
<text x="1549.30" y="738.02" font-size="26.8" font-weight="bold" fill="#000" text-anchor="end">3000</text>
<line x1="1552.40" y1="817.75" x2="1568.90" y2="817.75" stroke="#000" stroke-width="3.5"/>
<text x="1549.30" y="828.15" font-size="26.8" font-weight="bold" fill="#000" text-anchor="end">2000</text>
<line x1="1552.40" y1="907.88" x2="1568.90" y2="907.88" stroke="#000" stroke-width="3.5"/>
<text x="1549.30" y="918.27" font-size="26.8" font-weight="bold" fill="#000" text-anchor="end">1000</text>
<line x1="1552.40" y1="998.00" x2="1568.90" y2="998.00" stroke="#000" stroke-width="3.5"/>
<text x="1549.30" y="1008.40" font-size="26.8" font-weight="bold" fill="#000" text-anchor="end">0</text>
<line x1="1655.60" y1="998.00" x2="1655.60" y2="1015.00" stroke="#000" stroke-width="3.5"/>
<text transform="translate(1664.40,1036.60) rotate(-45)" font-size="27.5" font-weight="bold" fill="#000" text-anchor="end">CID</text>
<line x1="1838.40" y1="998.00" x2="1838.40" y2="1015.00" stroke="#000" stroke-width="3.5"/>
<text transform="translate(1847.20,1036.60) rotate(-45)" font-size="27.5" font-weight="bold" fill="#000" text-anchor="end">HCD</text>
<line x1="2021.00" y1="998.00" x2="2021.00" y2="1015.00" stroke="#000" stroke-width="3.5"/>
<text transform="translate(2029.80,1036.60) rotate(-45)" font-size="27.5" font-weight="bold" fill="#000" text-anchor="end">MSA</text>
<text transform="translate(1436.90,817.50) rotate(-90)" font-size="29.7" font-weight="bold" fill="#000" text-anchor="middle"><tspan x="0" y="0">Phosphorylation Sites</tspan><tspan x="-17.3" y="37.5">at 5% FLR</tspan></text>
<text x="1825.50" y="607.50" font-size="45.2" font-weight="bold" fill="#000" text-anchor="middle">TMTpro</text>
<text x="1417.00" y="607.50" font-size="46" font-weight="bold" fill="#000">C</text>
</g>
</svg>
</body>
</html>
